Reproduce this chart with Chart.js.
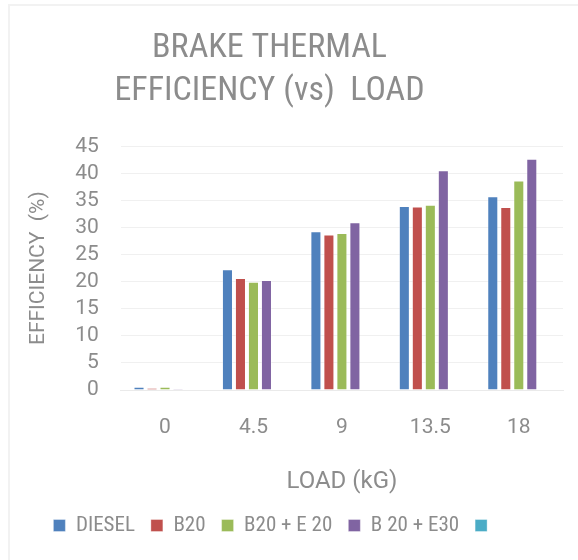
<!DOCTYPE html>
<html>
<head>
<meta charset="utf-8">
<script src="https://cdn.jsdelivr.net/npm/chart.js@4/dist/chart.umd.min.js"></script>
<style>
  html, body { margin: 0; padding: 0; background: #ffffff; overflow: hidden; }
  #frame { position: absolute; left: 8px; top: 4px; width: 700px; height: 700px;
           border-left: 2px solid #f2f2f2; border-top: 2px solid #f2f2f2; }
  #wrap { position: absolute; left: 0; top: 0; width: 578px; height: 560px; }
</style>
</head>
<body>
<div id="frame"></div>
<div id="wrap"><canvas id="c" width="578" height="560"></canvas></div>
<script>
// ---- data ----
const categories = ['0', '4.5', '9', '13.5', '18'];
const diesel  = [0.6, 22.3, 29.3, 34.0, 35.8];
const b20     = [0.4, 20.7, 28.7, 33.9, 33.8];
const b20e20  = [0.6, 20.0, 29.0, 34.2, 38.7];
const b20e30  = [0.2, 20.3, 31.0, 40.6, 42.7];
const emptySeries = [];
const seriesNames = ['DIESEL', 'B20', 'B20 + E 20', 'B 20 + E30', ''];
const titleLines = ['BRAKE THERMAL', 'EFFICIENCY (vs)  LOAD'];
const xTitle = 'LOAD (kG)';
const yTitle = 'EFFICIENCY  (%)';

const colors = ['#4F81BD', '#C0504D', '#9BBB59', '#8064A2', '#4BACC6'];
const textGray = '#8c8c8c';
const narrow = '"Roboto Condensed", "DejaVu Sans Condensed", sans-serif';

const shiftPlugin = {
  id: 'shiftBoxes',
  afterLayout(chart) {
    if (chart.titleBlock) { chart.titleBlock.left -= 12; chart.titleBlock.right -= 12; }
    if (chart.legend) { chart.legend.left -= 6; chart.legend.right -= 6; }
  }
};

const seriesData = [diesel, b20, b20e20, b20e30, emptySeries];

new Chart(document.getElementById('c'), {
  type: 'bar',
  data: {
    labels: categories,
    datasets: seriesData.map((d, i) => ({
      label: seriesNames[i],
      data: d,
      backgroundColor: colors[i],
      borderColor: 'rgba(255,255,255,0.35)',
      borderWidth: 1,
      categoryPercentage: 0.735,
      barPercentage: 0.85
    }))
  },
  plugins: [shiftPlugin],
  options: {
    responsive: false,
    animation: false,
    layout: { padding: { left: 0, right: 15, top: 0, bottom: 14 } },
    plugins: {
      title: {
        display: true,
        text: titleLines,
        color: textGray,
        font: { family: narrow, size: 34, weight: 'normal', lineHeight: 1.27 },
        padding: { top: 27, bottom: 33 }
      },
      legend: {
        position: 'bottom',
        labels: {
          color: textGray,
          boxWidth: 12,
          boxHeight: 12,
          padding: 16,
          font: { family: narrow, size: 21 }
        }
      },
      tooltip: { enabled: false }
    },
    scales: {
      x: {
        grid: { display: false, drawTicks: false },
        border: { display: true, color: '#eaeaea', width: 1 },
        ticks: { color: textGray, font: { family: 'Roboto', size: 21 }, padding: 25 },
        title: {
          display: true, text: xTitle, color: textGray,
          font: { family: 'Roboto', size: 24 },
          padding: { top: 2, bottom: 3 }
        }
      },
      y: {
        min: 0, max: 45,
        grid: { color: '#f0f0f0', drawTicks: false },
        border: { display: false },
        ticks: { stepSize: 5, autoSkip: false, color: textGray, font: { family: 'Roboto', size: 21 }, padding: 22 },
        title: {
          display: true, text: yTitle, color: textGray,
          font: { family: 'Roboto', size: 21 },
          padding: { top: 26, bottom: 2 }
        }
      }
    }
  }
});
</script>
</body>
</html>
